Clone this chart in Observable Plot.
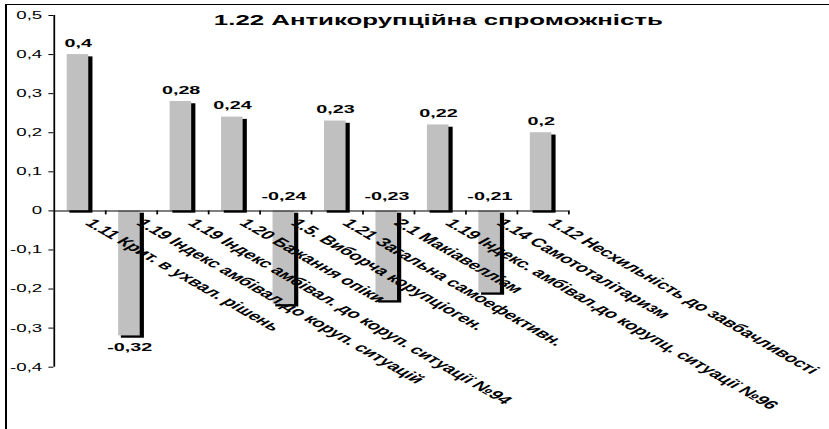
<!DOCTYPE html>
<html><head><meta charset="utf-8">
<script src="https://cdn.jsdelivr.net/npm/d3@7"></script>
<script src="https://cdn.jsdelivr.net/npm/@observablehq/plot@0.6"></script>
<style>
html,body{margin:0;padding:0;background:#fff;overflow:hidden;}
#wrap{position:relative;width:829px;height:429px;}
#chart{position:absolute;left:0;top:0;width:829px;height:429px;}
#chart svg{transform:scale(1.75,1);transform-origin:0 0;max-width:none !important;}
#frame{position:absolute;left:5px;top:4px;width:840px;height:440px;border-left:2px solid #000;border-top:1.2px solid #000;pointer-events:none;}
</style></head><body>
<div id="wrap"><div id="chart"></div><div id="frame"></div></div>
<script>
const title = "1.22 Антикорупційна спроможність";
const categories = [
  "1.11 Крит. в ухвал. рішень",
  "1.19 Індекс амбівал.до коруп. ситуацій",
  "1.19 Індекс амбівал. до коруп. ситуації №94",
  "1.20 Бажання опіки",
  "1.5. Виборча корупціоген.",
  "1.21 Загальна самоефективн.",
  "2.1 Макіавеллізм",
  "1.19 Індекс. амбівал.до корупц. ситуації №96",
  "1.14 Самототалітаризм",
  "1.12 Несхильність до завбачливості"
];
const values = [0.4, -0.32, 0.28, 0.24, -0.24, 0.23, -0.23, 0.22, -0.21, 0.2];
const yTicks = [-0.4, -0.3, -0.2, -0.1, 0, 0.1, 0.2, 0.3, 0.4, 0.5];

const SX = 1.75;
const W = 829 / SX;
const fmt = v => String(v).replace(".", ",");
const data = categories.map((c, i) => ({c, i, v: values[i]}));
const font = "'Liberation Sans', Arial, sans-serif";
const left = 53.4, right = 568;
const px = v => v / SX; // horizontal image pixels -> drawing units

const chart = Plot.plot({
  width: W, height: 429,
  marginLeft: px(left), marginRight: px(829 - right), marginTop: 15, marginBottom: 62.3,
  style: {fontFamily: font, background: "transparent", overflow: "visible", color: "#000"},
  x: {domain: [0, categories.length], axis: null},
  y: {domain: [-0.4, 0.5], axis: null},
  marks: [
    Plot.rectY(data, {x1: d => d.i, x2: d => d.i + 1, y1: 0, y2: "v", insetLeft: px(16), insetRight: px(12.4), dy: 2.3, fill: "#000"}),
    Plot.rectY(data, {x1: d => d.i, x2: d => d.i + 1, y1: 0, y2: "v", insetLeft: px(13.3), insetRight: px(16.6), fill: "#c0c0c0"}),
    Plot.axisY({ticks: yTicks, tickFormat: fmt, tickSize: px(5), tickPadding: px(7), fontSize: 10.7, label: null}),
    Plot.ruleX([0], {stroke: "#000"}),
    Plot.ruleY([0], {stroke: "#000"}),
    Plot.ruleX(d3.range(1, categories.length + 1), {y1: 0, y2: 0, insetTop: 0, insetBottom: -4, stroke: "#000"}),
    Plot.text(data.filter(d => d.v > 0), {x: d => d.i + 0.5, y: "v", text: d => fmt(d.v), dx: px(-1.8), dy: -11.4, fontWeight: "bold", fontSize: 11.3}),
    Plot.text(data.filter(d => d.v < 0 && d.v >= -0.25), {x: d => d.i + 0.5, y: 0, text: d => fmt(d.v), dx: px(-1.8), dy: -14.1, fontWeight: "bold", fontSize: 11.3}),
    Plot.text(data.filter(d => d.v < -0.25), {x: d => d.i + 0.5, y: "v", text: d => fmt(d.v), dx: px(-1.8), dy: 11.6, fontWeight: "bold", fontSize: 11.3}),
    Plot.text(data, {x: d => d.i + 0.5, y: 0, text: "c", rotate: 45, textAnchor: "start", dx: px(8.6), dy: 10.2, fontWeight: "bold", fontSize: 11.9}),
    Plot.text([title], {frameAnchor: "top", lineAnchor: "middle", dx: px(437.5 - (left + right) / 2), dy: 5, text: d => d, fontWeight: "bold", fontSize: 15.5, className: "ttl"})
  ]
});
d3.select(chart).selectAll(".ttl text").attr("textLength", px(449)).attr("lengthAdjust", "spacingAndGlyphs");
document.getElementById("chart").appendChild(chart);
</script>
</body></html>
